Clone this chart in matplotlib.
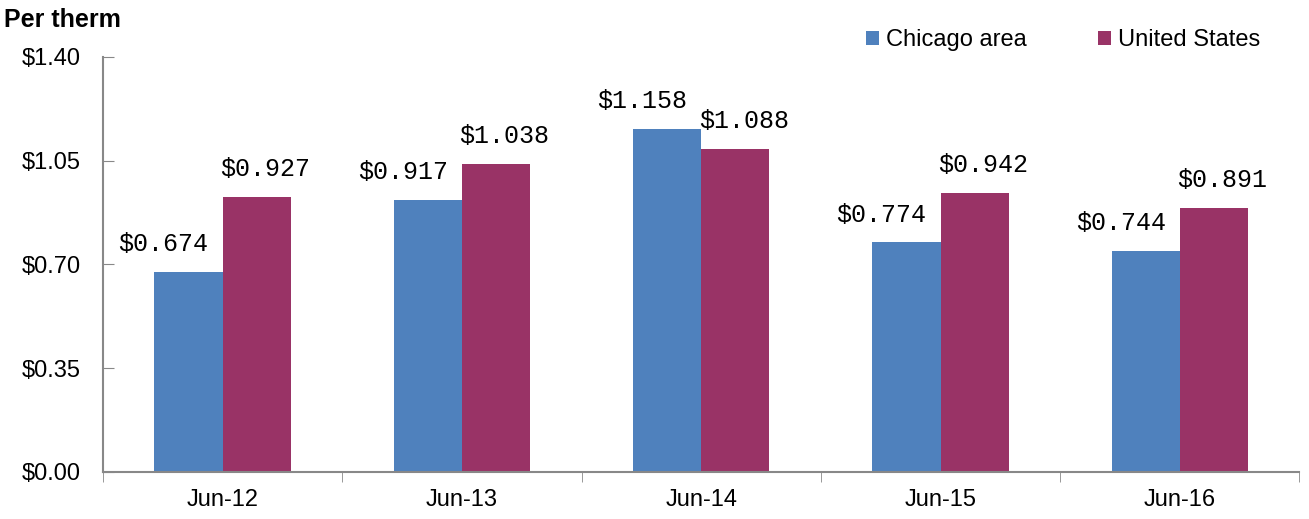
import numpy as np
import matplotlib.pyplot as plt
from matplotlib.ticker import FixedLocator

categories = ["Jun-12", "Jun-13", "Jun-14", "Jun-15", "Jun-16"]
chicago = [0.674, 0.917, 1.158, 0.774, 0.744]
us = [0.927, 1.038, 1.088, 0.942, 0.891]
yticks = [0.00, 0.35, 0.70, 1.05, 1.40]

blue = "#4f81bd"
plum = "#993366"

plt.rcParams['font.family'] = ['Liberation Sans', 'DejaVu Sans']

fig = plt.figure(figsize=(13.09, 5.19), dpi=100)
ax = fig.add_axes([0.0787, 0.0906, 0.914, 0.8])

x = np.arange(len(categories))
w = 0.285
b1 = ax.bar(x - w / 2, chicago, w, color=blue, label="Chicago area")
b2 = ax.bar(x + w / 2, us, w, color=plum, label="United States")

for rect, v in zip(b1, chicago):
    ax.annotate(f"${v:.3f}", (rect.get_x() + rect.get_width() / 2, v),
                xytext=(-18, 15), textcoords="offset points", ha="center", va="baseline",
                fontsize=18, family="Liberation Mono")
for rect, v in zip(b2, us):
    ax.annotate(f"${v:.3f}", (rect.get_x() + rect.get_width() / 2, v),
                xytext=(6, 15), textcoords="offset points", ha="center", va="baseline",
                fontsize=18, family="Liberation Mono")

ax.set_xlim(-0.5, len(categories) - 0.5)
ax.set_ylim(0, 1.40)
ax.set_yticks(yticks)
ax.set_yticklabels([f"${t:.2f}" for t in yticks], fontsize=17)
ax.tick_params(axis="y", direction="in", length=8, color="#888888", pad=16)

ax.set_xticks(x)
ax.set_xticklabels(categories, fontsize=17)
ax.tick_params(axis="x", which="major", length=0, pad=12)
ax.xaxis.set_minor_locator(FixedLocator(np.arange(-0.5, len(categories), 1.0)))
ax.tick_params(axis="x", which="minor", direction="out", length=7, color="#888888")

for s in ["top", "right"]:
    ax.spines[s].set_visible(False)
for s in ["left", "bottom"]:
    ax.spines[s].set_color("#888888")
    ax.spines[s].set_linewidth(1.5)

fig.text(0.003, 0.985, "Per therm", fontsize=18, fontweight="bold", va="top")

ax.legend(loc="center right", bbox_to_anchor=(0.985, 1.04), ncol=2, frameon=False,
          fontsize=17, handlelength=0.55, handleheight=0.55, handletextpad=0.3,
          columnspacing=3.0)

fig.savefig("out.png", dpi=100)
